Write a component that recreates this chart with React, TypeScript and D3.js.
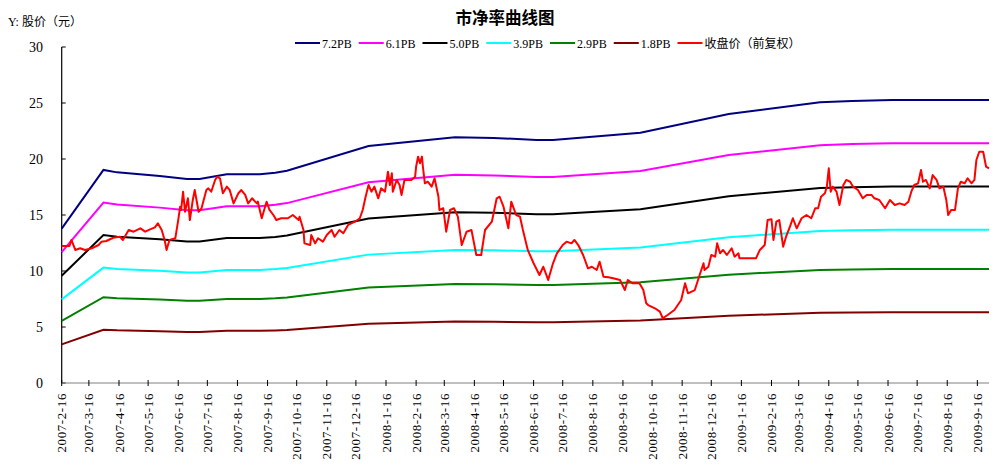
import React, { useEffect, useRef } from 'react';
import * as d3 from 'd3';

// day 0 = 2007-2-16
const startDate = new Date(2007, 1, 16);
const lastDay = 955;

const pbMultiples = [7.2, 6.1, 5.0, 3.9, 2.9, 1.8];
const pbLabels = ['7.2PB', '6.1PB', '5.0PB', '3.9PB', '2.9PB', '1.8PB'];
const pbColors = ['#000080', '#FF00FF', '#000000', '#00FFFF', '#008000', '#800000'];
const closeLabel = '收盘价（前复权）';
const closeColor = '#FF0000';

// 每股净资产 [days since start, value]
const bookValue: [number, number][] = [
  [0, 1.915], [43, 2.642], [57, 2.612], [101, 2.567], [129, 2.529], [142, 2.529],
  [170, 2.588], [204, 2.588], [220, 2.608], [232, 2.633], [316, 2.939], [405, 3.047],
  [445, 3.039], [489, 3.014], [506, 3.014], [596, 3.104], [687, 3.336], [781, 3.481],
  [814, 3.497], [855, 3.51], [955, 3.51],
];

// 收盘价（前复权） [days since start, price]
const closePrice: [number, number][] = [
  [0, 12.23], [8, 12.23], [10, 12.77], [14, 11.88], [19, 12.03], [24, 11.88], [31, 12.03],
  [38, 12.32], [41, 12.62], [46, 12.68], [53, 12.97], [60, 13.06], [63, 12.77], [69, 13.66],
  [74, 13.51], [81, 13.81], [86, 13.51], [91, 13.72], [96, 13.9], [99, 14.26], [103, 13.66],
  [106, 12.77], [108, 11.88], [111, 12.77], [117, 12.92], [120, 14.55], [122, 15.74],
  [123, 15.45], [125, 17.08], [127, 15.29], [130, 16.49], [132, 14.55], [135, 16.34],
  [137, 17.23], [141, 15.29], [144, 15.6], [149, 17.23], [151, 17.38], [154, 17.08],
  [158, 18.13], [160, 18.42], [163, 18.28], [166, 16.94], [170, 17.53], [173, 17.23],
  [177, 16.04], [182, 16.94], [185, 17.23], [189, 16.79], [192, 16.04], [196, 16.49],
  [201, 16.04], [202, 16.19], [206, 14.71], [211, 16.19], [214, 15.45], [218, 15.0],
  [221, 14.55], [226, 14.71], [233, 14.71], [238, 15.0], [244, 14.55], [245, 14.85],
  [249, 13.66], [250, 12.47], [256, 12.32], [257, 13.21], [261, 12.47], [264, 12.92],
  [269, 12.62], [273, 13.21], [278, 13.66], [281, 13.06], [286, 13.66], [290, 13.37],
  [295, 14.11], [302, 14.4], [307, 14.71], [310, 15.45], [313, 16.63], [316, 17.68],
  [319, 17.08], [322, 17.53], [326, 16.49], [329, 17.38], [333, 17.08], [336, 18.87],
  [338, 17.68], [340, 18.72], [341, 17.08], [345, 18.13], [348, 17.68], [350, 16.79],
  [353, 18.13], [360, 18.13], [364, 18.42], [365, 19.31], [367, 20.21], [369, 19.62],
  [371, 20.21], [372, 19.31], [374, 17.83], [377, 17.97], [381, 17.53], [384, 18.28],
  [388, 16.63], [389, 15.45], [393, 15.6], [396, 13.51], [400, 15.45], [404, 15.6],
  [408, 14.85], [412, 12.32], [417, 13.51], [422, 13.66], [427, 11.43], [432, 11.43],
  [436, 13.66], [443, 14.4], [448, 16.49], [451, 16.63], [455, 15.74], [460, 13.81],
  [463, 16.19], [468, 15.0], [472, 14.85], [475, 13.66], [480, 11.88], [486, 10.69],
  [492, 9.64], [496, 10.38], [501, 9.2], [506, 10.69], [510, 11.58], [516, 12.32],
  [520, 12.62], [525, 12.47], [528, 12.77], [532, 12.32], [537, 11.43], [542, 10.24],
  [546, 10.38], [551, 10.09], [554, 10.83], [558, 9.49], [563, 9.44], [568, 9.35],
  [575, 9.2], [580, 8.3], [583, 9.2], [588, 8.9], [595, 8.9], [599, 8.3], [602, 7.12],
  [604, 6.96], [611, 6.67], [616, 6.37], [619, 5.78], [624, 6.07], [631, 6.52],
  [638, 7.41], [642, 8.9], [645, 8.01], [652, 8.3], [657, 9.64], [661, 10.69],
  [662, 10.09], [666, 10.38], [669, 11.43], [673, 11.28], [675, 12.47], [678, 11.58],
  [681, 11.88], [685, 11.43], [690, 12.03], [693, 11.28], [697, 11.58], [698, 11.13],
  [705, 11.13], [715, 11.13], [719, 11.88], [724, 12.32], [727, 14.55], [731, 14.62],
  [733, 12.77], [736, 14.4], [739, 14.55], [743, 12.17], [746, 13.06], [750, 13.96],
  [753, 14.71], [757, 13.81], [762, 14.71], [767, 15.0], [772, 14.71], [776, 15.6],
  [779, 15.6], [782, 16.63], [786, 16.94], [788, 17.53], [790, 19.17], [792, 17.08],
  [794, 17.53], [798, 17.08], [801, 15.89], [805, 17.68], [808, 18.13], [812, 17.97],
  [815, 17.53], [820, 17.23], [825, 16.49], [829, 16.79], [834, 16.79], [837, 16.49],
  [842, 16.34], [848, 15.6], [853, 16.34], [858, 15.89], [863, 16.04], [868, 15.89],
  [872, 16.19], [875, 17.08], [878, 17.68], [882, 17.83], [885, 19.02], [887, 17.97],
  [890, 18.13], [894, 17.38], [897, 18.57], [901, 18.13], [904, 17.38], [908, 17.53],
  [911, 16.34], [913, 15.0], [916, 15.45], [920, 15.45], [923, 17.38], [926, 17.97],
  [930, 17.83], [933, 18.28], [937, 17.83], [940, 18.13], [942, 19.91], [945, 20.65],
  [949, 20.65], [952, 19.31], [955, 19.17],
];

const yTicks = [0, 5, 10, 15, 20, 25, 30];
const xTickLabels = [
  '2007-2-16', '2007-3-16', '2007-4-16', '2007-5-16', '2007-6-16', '2007-7-16', '2007-8-16',
  '2007-9-16', '2007-10-16', '2007-11-16', '2007-12-16', '2008-1-16', '2008-2-16', '2008-3-16',
  '2008-4-16', '2008-5-16', '2008-6-16', '2008-7-16', '2008-8-16', '2008-9-16', '2008-10-16',
  '2008-11-16', '2008-12-16', '2009-1-16', '2009-2-16', '2009-3-16', '2009-4-16', '2009-5-16',
  '2009-6-16', '2009-7-16', '2009-8-16', '2009-9-16',
];

const WIDTH = 1003;
const HEIGHT = 472;
const SERIF = "'Liberation Serif', 'Noto Sans CJK SC', serif";
const CJK = "'Noto Sans CJK SC', 'Liberation Serif', sans-serif";

const App: React.FC = () => {
  const svgRef = useRef<SVGSVGElement>(null);

  useEffect(() => {
    if (!svgRef.current) return;
    const svg = d3.select(svgRef.current);
    svg.selectAll('*').remove();

    const left = 61.7;
    const right = 989;
    const top = 47;
    const bottom = 383;

    const dayToDate = (d: number) => d3.timeDay.offset(startDate, Math.round(d));
    const parse = d3.timeParse('%Y-%m-%d');

    const x = d3.scaleTime()
      .domain([startDate, dayToDate(lastDay)])
      .range([left, right]);
    const y = d3.scaleLinear().domain([0, 30]).range([bottom, top]);

    // title
    svg.append('text')
      .attr('x', 505)
      .attr('y', 24)
      .attr('text-anchor', 'middle')
      .attr('font-family', CJK)
      .attr('font-size', '16.5px')
      .attr('font-weight', 'bold')
      .attr('fill', '#000')
      .text('市净率曲线图');

    // y axis title
    svg.append('text')
      .attr('x', 8)
      .attr('y', 26)
      .attr('font-family', SERIF)
      .attr('font-size', '12px')
      .attr('fill', '#000')
      .text('Y: 股价（元）');

    // legend
    const legendItems = pbLabels.map((l, i) => ({ label: l, color: pbColors[i] }))
      .concat([{ label: closeLabel, color: closeColor }]);
    const legend = svg.append('g');
    legendItems.forEach((item, i) => {
      const lx = 295 + i * 63.75;
      legend.append('line')
        .attr('x1', lx).attr('x2', lx + 25)
        .attr('y1', 43).attr('y2', 43)
        .attr('stroke', item.color)
        .attr('stroke-width', 2);
      legend.append('text')
        .attr('x', lx + 27)
        .attr('y', 47.5)
        .attr('font-family', SERIF)
        .attr('font-size', '12px')
        .attr('fill', '#000')
        .text(item.label);
    });

    // y axis
    svg.append('line')
      .attr('x1', left).attr('x2', left)
      .attr('y1', top).attr('y2', bottom)
      .attr('stroke', '#000')
      .attr('stroke-width', 1.2);
    yTicks.forEach(t => {
      svg.append('line')
        .attr('x1', left).attr('x2', left + 4)
        .attr('y1', y(t)).attr('y2', y(t))
        .attr('stroke', '#000');
      svg.append('text')
        .attr('x', 43)
        .attr('y', y(t))
        .attr('dy', '0.35em')
        .attr('text-anchor', 'end')
        .attr('font-family', SERIF)
        .attr('font-size', '14px')
        .attr('fill', '#000')
        .text(t);
    });

    // x axis
    svg.append('line')
      .attr('x1', left).attr('x2', right)
      .attr('y1', bottom).attr('y2', bottom)
      .attr('stroke', '#808080')
      .attr('stroke-width', 1.2);
    xTickLabels.forEach(lbl => {
      const tx = x(parse(lbl) as Date);
      svg.append('line')
        .attr('x1', tx).attr('x2', tx)
        .attr('y1', bottom - 3).attr('y2', bottom + 3)
        .attr('stroke', '#000');
      svg.append('text')
        .attr('transform', `translate(${tx},393) rotate(-90)`)
        .attr('dy', '0.35em')
        .attr('text-anchor', 'end')
        .attr('font-family', SERIF)
        .attr('font-size', '13px')
        .attr('letter-spacing', '0.6px')
        .attr('fill', '#000')
        .text(lbl);
    });

    const line = d3.line<[number, number]>()
      .x(d => x(dayToDate(d[0])))
      .y(d => y(d[1]));

    // PB lines
    pbMultiples.forEach((m, i) => {
      const pts = bookValue.map(d => [d[0], d[1] * m] as [number, number]);
      svg.append('path')
        .attr('d', line(pts) || '')
        .attr('fill', 'none')
        .attr('stroke', pbColors[i])
        .attr('stroke-width', 2);
    });

    // close price
    svg.append('path')
      .attr('d', line(closePrice) || '')
      .attr('fill', 'none')
      .attr('stroke', closeColor)
      .attr('stroke-width', 2)
      .attr('stroke-linejoin', 'round');
  }, []);

  return (
    <div style={{ position: 'absolute', left: 0, top: 0 }}>
      <svg ref={svgRef} width={WIDTH} height={HEIGHT} style={{ display: 'block', background: '#fff' }} />
    </div>
  );
};

export default App;
